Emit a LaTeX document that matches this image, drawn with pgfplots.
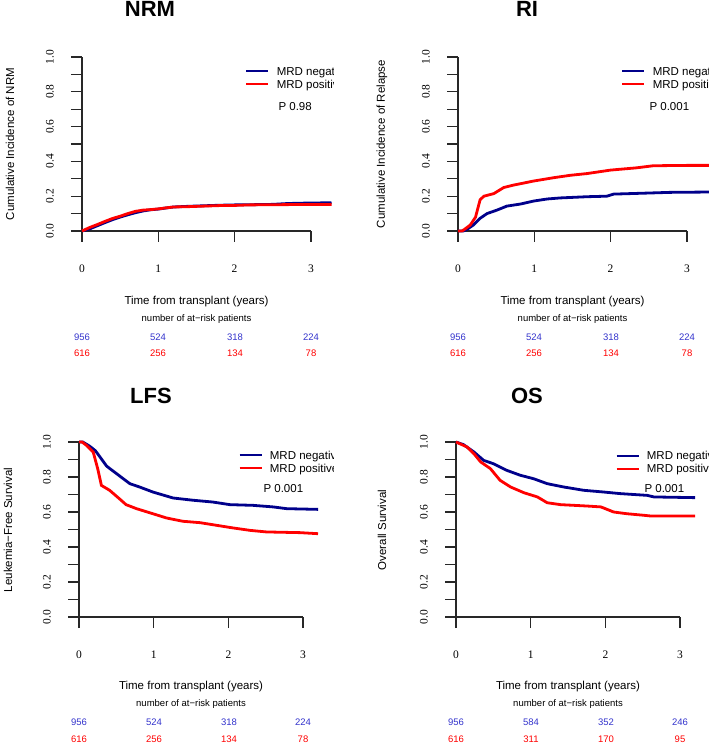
\documentclass[border=0pt]{standalone}
\usepackage{fontspec}
\setmainfont{Liberation Sans}
\newfontfamily\tickfont{Liberation Serif}
\usepackage{pgfplots}
\pgfplotsset{compat=1.18}

\definecolor{negblue}{RGB}{0,0,139}
\definecolor{posred}{RGB}{255,0,0}
\definecolor{riskblue}{RGB}{51,51,204}
\definecolor{axisgray}{RGB}{40,40,40}

\newcommand{\labfont}{\fontsize{11.5}{13}\selectfont}
\newcommand{\smallfont}{\fontsize{9.5}{11}\selectfont}
\newcommand{\titfont}{\fontsize{22}{24}\selectfont\bfseries}

\pgfplotsset{
  km/.style={
    xmin=0, xmax=3, ymin=0, ymax=1,
    clip=false,
    axis lines*=left,
    axis line style={axisgray, line width=1.3pt, -},
    tick style={axisgray, line width=1.3pt},
    tick align=outside,
    major tick length=11pt, minor tick length=11pt,
    xtick={0,1,2,3},
    ytick={0,0.2,0.4,0.6,0.8,1},
    minor ytick={0.1,0.3,0.5,0.7,0.9},
    tick label style={font=\tickfont\fontsize{11.5}{13}\selectfont,
      /pgf/number format/assume math mode=true},
    yticklabel style={xshift=-21pt, rotate=90, anchor=center,
      /pgf/number format/.cd, fixed, fixed zerofill, precision=1},
    xticklabel style={anchor=center, yshift=-27pt},
    legend style={draw=none, fill=none, anchor=north west,
      inner sep=0pt, outer sep=0pt, row sep=0pt, column sep=0pt,
      font=\labfont,
      nodes={inner sep=0pt, text height=9pt, text depth=4pt, anchor=west}},
    legend image code/.code={
      \draw[##1, line width=2.8pt] (0pt,1.5pt) -- (22pt,1.5pt);
      \path (29pt,1.5pt);},
  },
  neg/.style={negblue, line width=2.8pt},
  pos/.style={posred, line width=2.8pt},
}

\begin{document}
\begin{tikzpicture}[x=1pt,y=1pt]
\useasboundingbox (0,0) rectangle (709,744);

% ---------------- NRM ----------------
\begin{scope}
\clip (0,372) rectangle (333,744);
\begin{axis}[km, x=76.3pt, y=174pt, at={(82pt,513pt)}, anchor=south west,
  legend style={at={(axis description cs:0.712,0.948)}}]
\addplot[neg] coordinates {
 (0,0) (0.1,0.012) (0.2,0.03) (0.3,0.048) (0.4,0.065) (0.5,0.08) (0.6,0.093)
 (0.7,0.105) (0.8,0.115) (0.9,0.122) (1.0,0.126) (1.1,0.132) (1.2,0.138)
 (1.4,0.142) (1.6,0.145) (1.8,0.148) (2.0,0.15) (2.2,0.151) (2.5,0.153)
 (2.7,0.158) (3.0,0.161) (3.27,0.162)};
\addlegendentry{MRD negative}
\addplot[pos] coordinates {
 (0,0) (0.1,0.02) (0.2,0.037) (0.3,0.055) (0.4,0.072) (0.5,0.085) (0.6,0.1)
 (0.7,0.113) (0.8,0.12) (0.9,0.123) (1.0,0.127) (1.1,0.133) (1.2,0.138)
 (1.4,0.14) (1.6,0.143) (1.8,0.146) (2.0,0.147) (2.2,0.15) (2.5,0.151)
 (2.8,0.152) (3.0,0.152) (3.27,0.152)};
\addlegendentry{MRD positive}
\end{axis}
\end{scope}

% ---------------- RI ----------------
\begin{axis}[km, x=76.3pt, y=174pt, at={(458pt,513pt)}, anchor=south west,
  legend style={at={(axis description cs:0.712,0.948)}}]
\addplot[neg] coordinates {
 (0,0) (0.07,0) (0.12,0.01) (0.2,0.034) (0.29,0.073) (0.38,0.10) (0.51,0.12)
 (0.64,0.143) (0.82,0.155) (0.99,0.172) (1.17,0.184) (1.34,0.19) (1.69,0.197)
 (1.95,0.20) (2.04,0.212) (2.34,0.216) (2.78,0.222) (3.3,0.224)};
\addlegendentry{MRD negative}
\addplot[pos] coordinates {
 (0,0) (0.05,0) (0.074,0.006) (0.16,0.034) (0.23,0.08) (0.29,0.18) (0.34,0.2)
 (0.47,0.215) (0.6,0.25) (0.73,0.264) (0.99,0.287) (1.25,0.306) (1.47,0.32)
 (1.69,0.33) (2.0,0.35) (2.34,0.363) (2.56,0.375) (3.0,0.377) (3.3,0.377)};
\addlegendentry{MRD positive}
\end{axis}

% ---------------- LFS ----------------
\begin{scope}
\clip (0,0) rectangle (333,372);
\begin{axis}[km, x=74.7pt, y=175pt, at={(79pt,127pt)}, anchor=south west,
  legend style={at={(axis description cs:0.71,0.954)}}]
\addplot[neg] coordinates {
 (0,1) (0.05,1) (0.14,0.977) (0.22,0.95) (0.28,0.915) (0.37,0.862) (0.5,0.82)
 (0.68,0.762) (0.81,0.743) (0.99,0.714) (1.26,0.68) (1.53,0.667) (1.79,0.657)
 (2.02,0.642) (2.33,0.638) (2.6,0.629) (2.78,0.619) (3.2,0.615)};
\addlegendentry{MRD negative}
\addplot[pos] coordinates {
 (0,1) (0.04,1) (0.1,0.981) (0.19,0.943) (0.25,0.848) (0.3,0.752) (0.41,0.724)
 (0.54,0.676) (0.63,0.642) (0.77,0.619) (0.99,0.59) (1.17,0.566) (1.39,0.547)
 (1.62,0.539) (1.84,0.524) (2.06,0.509) (2.29,0.495) (2.51,0.486) (2.96,0.482)
 (3.2,0.476)};
\addlegendentry{MRD positive}
\end{axis}
\end{scope}

% ---------------- OS ----------------
\begin{axis}[km, x=74.7pt, y=175pt, at={(456pt,127pt)}, anchor=south west,
  legend style={at={(axis description cs:0.71,0.949)}}]
\addplot[neg] coordinates {
 (0,1) (0.1,0.985) (0.24,0.943) (0.37,0.895) (0.5,0.876) (0.68,0.838)
 (0.86,0.81) (1.04,0.79) (1.22,0.762) (1.44,0.743) (1.71,0.724) (1.98,0.714)
 (2.2,0.705) (2.56,0.695) (2.65,0.686) (3.2,0.682)};
\addlegendentry{MRD negative}
\addplot[pos] coordinates {
 (0,1) (0.15,0.971) (0.24,0.933) (0.33,0.886) (0.46,0.848) (0.59,0.781)
 (0.73,0.743) (0.91,0.71) (1.09,0.686) (1.22,0.653) (1.4,0.642) (1.76,0.634)
 (1.94,0.629) (2.11,0.6) (2.29,0.59) (2.52,0.581) (2.61,0.577) (3.2,0.577)};
\addlegendentry{MRD positive}
\end{axis}

% ---------------- titles, labels, p values ----------------
\node[anchor=base, font=\titfont] at (150,727) {NRM};
\node[anchor=base, font=\titfont] at (527,727) {RI};
\node[anchor=base, font=\titfont] at (151,340) {LFS};
\node[anchor=base, font=\titfont] at (527,340) {OS};

\node[rotate=90, font=\labfont] at (10,600) {Cumulative Incidence of NRM};
\node[rotate=90, font=\labfont] at (382,600) {Cumulative Incidence of Relapse};
\node[rotate=90, font=\labfont] at (8,214) {Leukemia−Free Survival};
\node[rotate=90, font=\labfont] at (382,214) {Overall Survival};

\node[anchor=base west, font=\labfont] at (275,633) {P 0.98};
\node[anchor=base west, font=\labfont] at (646,633) {P 0.001};
\node[anchor=base west, font=\labfont] at (260,251) {P 0.001};
\node[anchor=base west, font=\labfont] at (641,251) {P 0.001};

\node[anchor=base, font=\labfont] at (196.5,439.5) {Time from transplant (years)};
\node[anchor=base, font=\labfont] at (572.5,439.5) {Time from transplant (years)};
\node[anchor=base, font=\labfont] at (191,54) {Time from transplant (years)};
\node[anchor=base, font=\labfont] at (568,54) {Time from transplant (years)};

\node[anchor=base, font=\smallfont] at (196.5,422) {number of at−risk patients};
\node[anchor=base, font=\smallfont] at (572.5,422) {number of at−risk patients};
\node[anchor=base, font=\smallfont] at (191,37) {number of at−risk patients};
\node[anchor=base, font=\smallfont] at (568,37) {number of at−risk patients};

% ---------------- numbers at risk ----------------
\foreach \x/\n in {82/956,158/524,235/318,311/224}
  \node[font=\smallfont, text=riskblue] at (\x,407) {\n};
\foreach \x/\n in {82/616,158/256,235/134,311/78}
  \node[font=\smallfont, text=posred] at (\x,391) {\n};
\foreach \x/\n in {458/956,534/524,611/318,687/224}
  \node[font=\smallfont, text=riskblue] at (\x,407) {\n};
\foreach \x/\n in {458/616,534/256,611/134,687/78}
  \node[font=\smallfont, text=posred] at (\x,391) {\n};
\foreach \x/\n in {79/956,154/524,229/318,303/224}
  \node[font=\smallfont, text=riskblue] at (\x,22) {\n};
\foreach \x/\n in {79/616,154/256,229/134,303/78}
  \node[font=\smallfont, text=posred] at (\x,5) {\n};
\foreach \x/\n in {456/956,531/584,606/352,680/246}
  \node[font=\smallfont, text=riskblue] at (\x,22) {\n};
\foreach \x/\n in {456/616,531/311,606/170,680/95}
  \node[font=\smallfont, text=posred] at (\x,5) {\n};
\end{tikzpicture}
\end{document}
